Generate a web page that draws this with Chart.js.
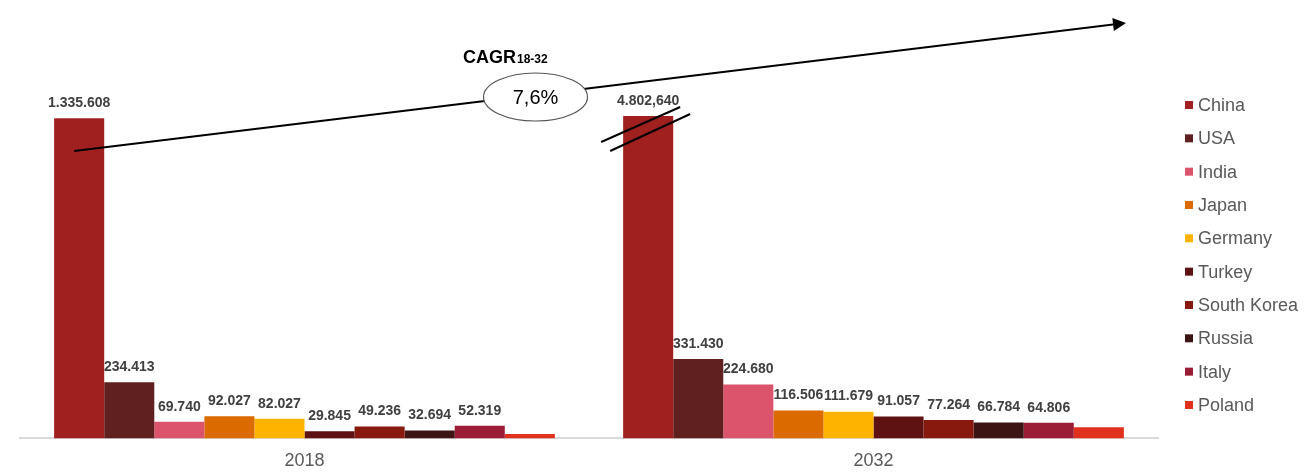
<!DOCTYPE html>
<html>
<head>
<meta charset="utf-8">
<script src="https://cdn.jsdelivr.net/npm/chart.js@4.4.1/dist/chart.umd.min.js"></script>
<style>
  html, body { margin: 0; padding: 0; background: #fff; }
</style>
</head>
<body>
<canvas id="chart" width="1307" height="475"></canvas>
<script>
const years = ["2018", "2032"];
const countries = ["China", "USA", "India", "Japan", "Germany", "Turkey", "South Korea", "Russia", "Italy", "Poland"];
const values2018 = [1335608, 234413, 69740, 92027, 82027, 29845, 49236, 32694, 52319, 18500];
const values2032 = [4802640, 331430, 224680, 116506, 111679, 91057, 77264, 66784, 64806, 47000];
const colors = ["#A02020", "#612020", "#DB546B", "#DB6B00", "#FDB300", "#5F1212", "#88190F", "#3C1414", "#9B1D35", "#E0301E"];
const unlabeled = ["Poland"];
// label text as printed on the slide (the 2032 China figure keeps its comma)
const labelOverrides = { "China|2032": "4.802,640" };
// value axis is cut just above the 2018 China bar, so China 2032 is drawn broken
const axisMax = 1345000;
const cagrLabel = "CAGR";
const cagrSub = "18-32";
const cagrValue = "7,6%";

const FONT = "'Liberation Sans', Arial, sans-serif";

const fmt = (v) => String(v).replace(/\B(?=(\d{3})+(?!\d))/g, ".");

function labelFor(country, year, v) {
  return labelOverrides[`${country}|${year}`] || fmt(v);
}

function line(ctx, x1, y1, x2, y2) {
  ctx.beginPath();
  ctx.moveTo(x1, y1);
  ctx.lineTo(x2, y2);
  ctx.stroke();
}

const overlay = {
  id: "overlay",
  afterDatasetsDraw(chart) {
    const { ctx, chartArea } = chart;
    ctx.save();

    // value labels
    ctx.font = `bold 14px ${FONT}`;
    ctx.fillStyle = "#404040";
    ctx.textAlign = "center";
    ctx.textBaseline = "middle";
    chart.data.datasets.forEach((ds, i) => {
      if (unlabeled.includes(ds.label)) return;
      chart.getDatasetMeta(i).data.forEach((bar, j) => {
        const top = Math.max(bar.y, chartArea.top);
        ctx.fillText(labelFor(ds.label, years[j], ds.data[j]), bar.x, top - 15);
      });
    });

    // break marks on bars that run past the axis max
    ctx.strokeStyle = "#000";
    ctx.lineWidth = 2;
    chart.data.datasets.forEach((ds, i) => {
      chart.getDatasetMeta(i).data.forEach((bar, j) => {
        if (ds.data[j] <= axisMax) return;
        const cx = bar.x + 3, t = chartArea.top;
        line(ctx, cx - 50, t + 26, cx + 29, t - 9);
        line(ctx, cx - 41, t + 35, cx + 39, t - 2);
      });
    });
    ctx.restore();
  },
  afterDraw(chart) {
    const { ctx, chartArea } = chart;
    ctx.save();

    // CAGR arrow from the 2018 China bar to the top right
    const china18 = chart.getDatasetMeta(0).data[0];
    const x0 = china18.x - 5, y0 = chartArea.top + 35;
    const x1 = 1126, y1 = 23;
    ctx.strokeStyle = "#000";
    ctx.lineWidth = 2;
    const ang = Math.atan2(y1 - y0, x1 - x0);
    const headLen = 13, headW = 6.5;
    const bx = x1 - headLen * Math.cos(ang), by = y1 - headLen * Math.sin(ang);
    line(ctx, x0, y0, bx, by);
    ctx.fillStyle = "#000";
    ctx.beginPath();
    ctx.moveTo(x1, y1);
    ctx.lineTo(bx + headW * Math.sin(ang), by - headW * Math.cos(ang));
    ctx.lineTo(bx - headW * Math.sin(ang), by + headW * Math.cos(ang));
    ctx.closePath();
    ctx.fill();

    // ellipse with the growth rate
    ctx.beginPath();
    ctx.ellipse(535.5, 97, 52, 24, 0, 0, Math.PI * 2);
    ctx.fillStyle = "#fff";
    ctx.fill();
    ctx.strokeStyle = "#555";
    ctx.lineWidth = 1.2;
    ctx.stroke();
    ctx.fillStyle = "#000";
    ctx.font = `20px ${FONT}`;
    ctx.textAlign = "center";
    ctx.textBaseline = "middle";
    ctx.fillText(cagrValue, 535.5, 98);

    ctx.textAlign = "left";
    ctx.textBaseline = "alphabetic";
    ctx.font = `bold 18px ${FONT}`;
    ctx.fillText(cagrLabel, 463, 63);
    const w = ctx.measureText(cagrLabel).width;
    ctx.font = `bold 12px ${FONT}`;
    ctx.fillText(cagrSub, 463 + w + 1, 63);

    // legend
    ctx.font = `18px ${FONT}`;
    ctx.textBaseline = "middle";
    chart.data.datasets.forEach((ds, i) => {
      const cy = 105 + i * 33.33;
      ctx.fillStyle = ds.backgroundColor;
      ctx.fillRect(1185, cy - 4, 8, 8);
      ctx.fillStyle = "#595959";
      ctx.fillText(ds.label, 1198, cy + 1);
    });
    ctx.restore();
  }
};

new Chart(document.getElementById("chart"), {
  type: "bar",
  data: {
    labels: years,
    datasets: countries.map((c, i) => ({
      label: c,
      data: [values2018[i], values2032[i]],
      backgroundColor: colors[i],
      borderWidth: 0,
      clip: 0,
      categoryPercentage: 0.88,
      barPercentage: 1
    }))
  },
  options: {
    responsive: false,
    animation: false,
    layout: { padding: { left: 20, right: 149, top: 116, bottom: -9 } },
    plugins: { legend: { display: false }, tooltip: { enabled: false } },
    scales: {
      x: {
        grid: { display: false, drawTicks: false },
        border: { color: "#D9D9D9", width: 2 },
        ticks: { color: "#595959", font: { size: 18, family: FONT }, padding: 12 }
      },
      y: { display: false, min: 0, max: axisMax }
    }
  },
  plugins: [overlay]
});
</script>
</body>
</html>
